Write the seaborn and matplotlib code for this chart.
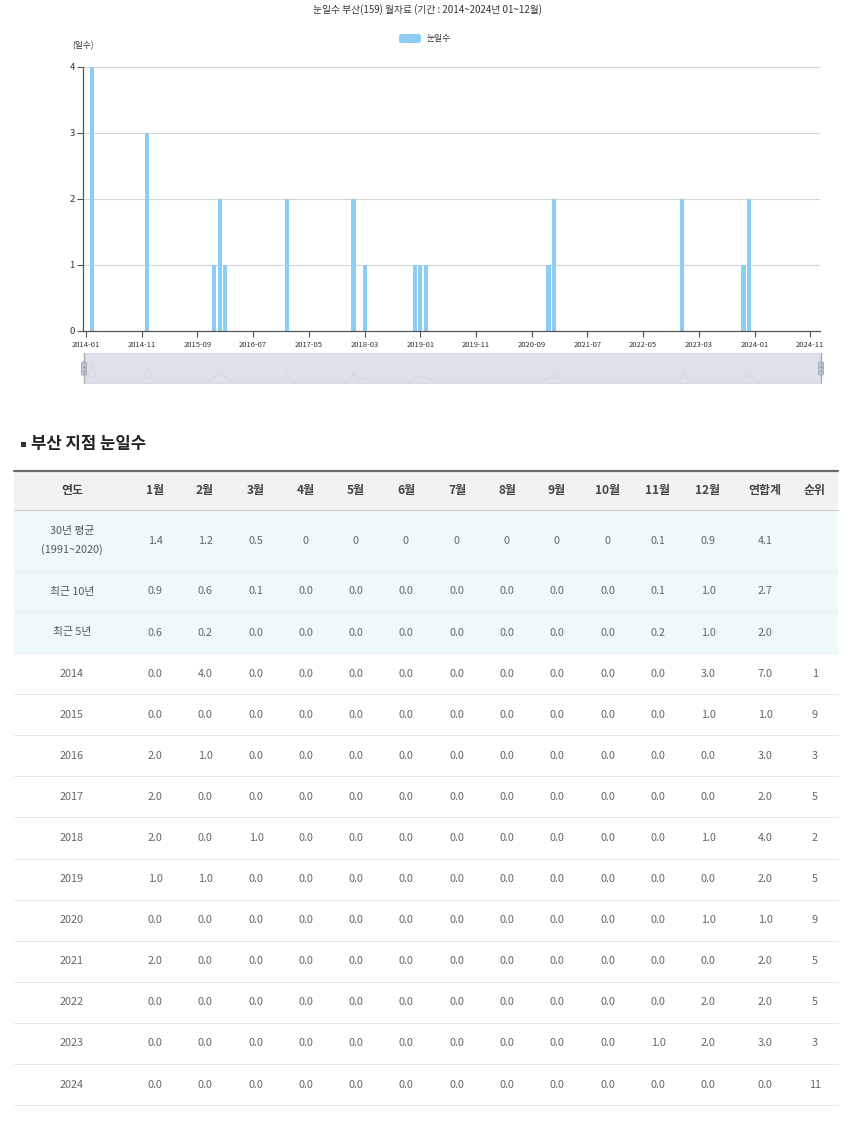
import numpy as np
import pandas as pd
import matplotlib
matplotlib.use("Agg")
import matplotlib.pyplot as plt
import seaborn as sns
from matplotlib.patches import Rectangle, FancyBboxPatch

# ---------------- data ----------------
years = [2014, 2015, 2016, 2017, 2018, 2019, 2020, 2021, 2022, 2023, 2024]
snow_2014 = [0, 4, 0, 0, 0, 0, 0, 0, 0, 0, 0, 3]
snow_2015 = [0, 0, 0, 0, 0, 0, 0, 0, 0, 0, 0, 1]
snow_2016 = [2, 1, 0, 0, 0, 0, 0, 0, 0, 0, 0, 0]
snow_2017 = [2, 0, 0, 0, 0, 0, 0, 0, 0, 0, 0, 0]
snow_2018 = [2, 0, 1, 0, 0, 0, 0, 0, 0, 0, 0, 1]
snow_2019 = [1, 1, 0, 0, 0, 0, 0, 0, 0, 0, 0, 0]
snow_2020 = [0, 0, 0, 0, 0, 0, 0, 0, 0, 0, 0, 1]
snow_2021 = [2, 0, 0, 0, 0, 0, 0, 0, 0, 0, 0, 0]
snow_2022 = [0, 0, 0, 0, 0, 0, 0, 0, 0, 0, 0, 2]
snow_2023 = [0, 0, 0, 0, 0, 0, 0, 0, 0, 0, 1, 2]
snow_2024 = [0, 0, 0, 0, 0, 0, 0, 0, 0, 0, 0, 0]
year_totals = [7.0, 1.0, 3.0, 2.0, 4.0, 2.0, 1.0, 2.0, 2.0, 3.0, 0.0]
year_ranks = [1, 9, 3, 5, 2, 5, 9, 5, 5, 3, 11]

avg30_label = "30년 평균\n(1991~2020)"
avg30 = ["1.4", "1.2", "0.5", "0", "0", "0", "0", "0", "0", "0", "0.1", "0.9", "4.1", ""]
recent10_label = "최근 10년"
recent10 = ["0.9", "0.6", "0.1", "0.0", "0.0", "0.0", "0.0", "0.0", "0.0", "0.0", "0.1", "1.0", "2.7", ""]
recent5_label = "최근 5년"
recent5 = ["0.6", "0.2", "0.0", "0.0", "0.0", "0.0", "0.0", "0.0", "0.0", "0.0", "0.2", "1.0", "2.0", ""]

header_labels = ["연도", "1월", "2월", "3월", "4월", "5월", "6월", "7월", "8월", "9월",
                 "10월", "11월", "12월", "연합계", "순위"]

year_rows = [snow_2014, snow_2015, snow_2016, snow_2017, snow_2018, snow_2019,
             snow_2020, snow_2021, snow_2022, snow_2023, snow_2024]
month_labels = [f"{y}-{m:02d}" for y in years for m in range(1, 13)]
monthly_values = [v for row in year_rows for v in row]

title_text = "눈일수 부산(159) 월자료 (기간 : 2014~2024년 01~12월)"
series_name = "눈일수"
y_unit = "(일수)"
section_title = "부산 지점 눈일수"

# ---------------- style ----------------
sns.set_theme(style="white")
plt.rcParams["font.family"] = ["Noto Sans CJK KR", "DejaVu Sans"]

BAR = "#8ecdf3"
W, H = 850, 1125
fig = plt.figure(figsize=(8.5, 11.25), dpi=100)
fig.patch.set_facecolor("white")

ov = fig.add_axes([0, 0, 1, 1])
ov.set_xlim(0, W)
ov.set_ylim(H, 0)
ov.axis("off")

# title + legend + unit
ov.text(428, 10, title_text, ha="center", va="center", fontsize=7, color="#333333")
ov.add_patch(FancyBboxPatch((399, 34), 22, 9, boxstyle="round,pad=0,rounding_size=2.5",
                            facecolor=BAR, edgecolor="none"))
ov.text(427, 38.5, series_name, ha="left", va="center", fontsize=6.3, color="#333333")
ov.text(83, 46, y_unit, ha="center", va="center", fontsize=6.2, color="#333333")

# ---------------- chart ----------------
L, R, T, B = 83, 819.5, 67, 331
ax = fig.add_axes([L / W, 1 - B / H, (R - L) / W, (B - T) / H])
df = pd.DataFrame({"idx": np.arange(len(monthly_values)), "v": monthly_values})
sns.barplot(data=df, x="idx", y="v", native_scale=True, color=BAR, saturation=1,
            width=0.75, errorbar=None, edgecolor="none", ax=ax)
ax.set_xlim(-0.55, 131.65)
ax.set_ylim(0, 4)
ax.set_yticks([0, 1, 2, 3, 4])
ax.set_yticklabels(["0", "1", "2", "3", "4"])
xt = list(range(0, len(month_labels), 10))
ax.set_xticks(xt)
ax.set_xticklabels([month_labels[i] for i in xt])
for yv in [1, 2, 3, 4]:
    ax.axhline(yv, color="#d6d6d6", lw=0.8, zorder=0)
for s in ["top", "right"]:
    ax.spines[s].set_visible(False)
for s in ["left", "bottom"]:
    ax.spines[s].set_color("#555555")
    ax.spines[s].set_linewidth(0.9)
ax.tick_params(axis="y", length=4, width=0.8, color="#555555", labelsize=6.8,
               labelcolor="#333333", pad=2, left=True)
ax.tick_params(axis="x", length=4, width=0.8, color="#555555", labelsize=5.5,
               labelcolor="#333333", pad=3, bottom=True)
ax.set_xlabel("")
ax.set_ylabel("")
ax.set_facecolor("none")

# ---------------- data zoom slider ----------------
sx0, sx1, sy0, sy1 = 84, 821, 353, 383
ov.add_patch(Rectangle((sx0, sy0), sx1 - sx0, sy1 - sy0, facecolor="#dde1e9",
                       edgecolor="#d2d6de", lw=0.6))
scale = (sx1 - sx0 - 5) / (len(monthly_values) - 1)
shadow_x = [sx0 + 2 + i * scale for i in range(len(monthly_values))]
shadow_y = [sy1 - 1.5 - v * 4.5 for v in monthly_values]
ov.plot(shadow_x, shadow_y, color="#c9cdd5", lw=0.5, alpha=0.6)
ov.plot([sx0, sx0], [sy0, sy1], color="#a8adb5", lw=1.0)
ov.plot([sx1, sx1], [sy0, sy1], color="#a8adb5", lw=1.0)
for hx in [sx0, sx1]:
    ov.add_patch(FancyBboxPatch((hx - 2.6, 362), 5.2, 13, boxstyle="round,pad=0,rounding_size=1.2",
                                facecolor="#c9cdd4", edgecolor="#a3a8b0", lw=0.6))
    for yy in [366.5, 370.5]:
        ov.plot([hx - 1.6, hx + 1.6], [yy, yy], color="#9aa0a8", lw=0.5)

# ---------------- section heading ----------------
ov.add_patch(Rectangle((20.7, 441.5), 5.3, 5.3, facecolor="#333333", edgecolor="none"))
ov.text(31, 444, section_title, ha="left", va="center", fontsize=12,
        fontweight="bold", color="#222222")

# ---------------- table ----------------
TL, TR = 14, 838
col_x = [72, 155, 205, 256, 306, 356, 406, 457, 507, 557, 608, 658, 708, 765, 815]

# header
ov.add_patch(Rectangle((TL, 471), TR - TL, 39, facecolor="#f2f2f2", edgecolor="none"))
ov.plot([TL, TR], [471, 471], color="#6a6a6a", lw=1.6)
ov.plot([TL, TR], [510, 510], color="#cfcfcf", lw=0.8)
for cx, lab in zip(col_x, header_labels):
    ov.text(cx, 490.5, lab, ha="center", va="center", fontsize=8.6,
            fontweight="bold", color="#444444")

stat_rows = [(avg30_label, avg30, 510, 571),
             (recent10_label, recent10, 571, 612),
             (recent5_label, recent5, 612, 653)]
for lab, vals, t, b in stat_rows:
    ov.add_patch(Rectangle((TL, t), TR - TL, b - t, facecolor="#eef9f9", edgecolor="none"))
    ov.plot([TL, TR], [b, b], color="#e6eeee", lw=0.7)
    ym = (t + b) / 2
    ov.text(col_x[0], ym, lab, ha="center", va="center", fontsize=7.8,
            color="#555555", linespacing=1.9)
    for cx, v in zip(col_x[1:], vals):
        ov.text(cx, ym, v, ha="center", va="center", fontsize=7.8, color="#666666")

row_h = 41.1
for k, (yr, row, tot, rk) in enumerate(zip(years, year_rows, year_totals, year_ranks)):
    t = 653 + k * row_h
    b = t + row_h
    ym = (t + b) / 2
    ov.plot([TL, TR], [b, b], color="#e8e8e8", lw=0.7)
    cells = [str(yr)] + [f"{float(v):.1f}" for v in row] + [f"{tot:.1f}", str(rk)]
    for cx, v in zip(col_x, cells):
        ov.text(cx, ym, v, ha="center", va="center", fontsize=7.8, color="#666666")

fig.savefig("out.png", dpi=100)
